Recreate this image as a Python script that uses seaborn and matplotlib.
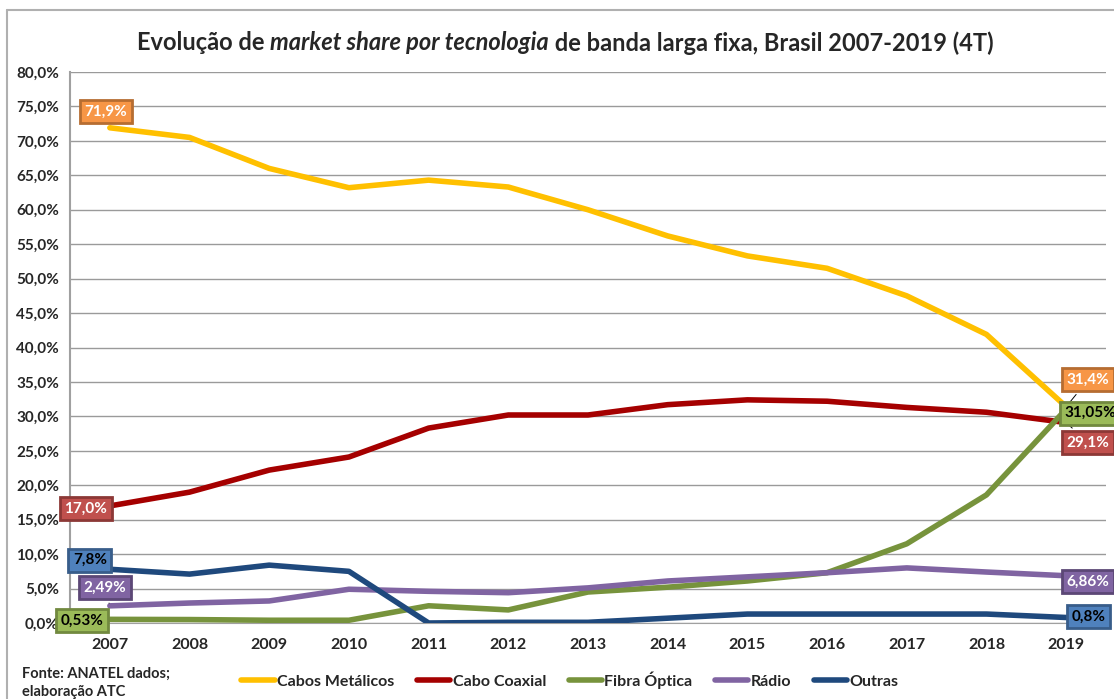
import matplotlib
matplotlib.use("Agg")
import matplotlib.pyplot as plt
import seaborn as sns
import pandas as pd
import numpy as np

# Data
years = [str(y) for y in range(2007, 2020)]
cabos_metalicos = [71.9, 70.5, 66.0, 63.2, 64.3, 63.3, 60.0, 56.2, 53.3, 51.5, 47.5, 41.9, 31.4]
cabo_coaxial = [17.0, 19.0, 22.2, 24.1, 28.3, 30.2, 30.2, 31.7, 32.4, 32.2, 31.3, 30.6, 29.1]
fibra_optica = [0.53, 0.5, 0.4, 0.4, 2.5, 1.9, 4.5, 5.2, 6.1, 7.3, 11.5, 18.6, 31.05]
radio = [2.49, 2.9, 3.2, 4.9, 4.6, 4.4, 5.1, 6.1, 6.7, 7.3, 8.0, 7.4, 6.86]
outras = [7.8, 7.1, 8.4, 7.5, 0.0, 0.1, 0.1, 0.7, 1.3, 1.3, 1.3, 1.3, 0.8]

series_names = ["Cabos Metálicos", "Cabo Coaxial", "Fibra Óptica", "Rádio", "Outras"]
series_vals = [cabos_metalicos, cabo_coaxial, fibra_optica, radio, outras]
colors = ["#FFC000", "#A50000", "#77933C", "#8064A2", "#1F497D"]

# first / last labels: (text, facecolor, edgecolor, textcolor, dx px, dy px)
first_labels = [
    ("71,9%", "#F79646", "#B66D31", "white", -4, 16),
    ("17,0%", "#C0504D", "#8C3836", "white", -24, -3),
    ("0,53%", "#9BBB59", "#71893F", "black", -28, -1),
    ("2,49%", "#8064A2", "#5C4776", "white", -5, 18),
    ("7,8%", "#4F81BD", "#385D8A", "black", -20, 9),
]
last_labels = [
    ("31,4%", "#F79646", "#B66D31", "white", 22, 27),
    ("29,1%", "#C0504D", "#8C3836", "white", 22, -20),
    ("31,05%", "#9BBB59", "#71893F", "black", 24, -4),
    ("6,86%", "#8064A2", "#5C4776", "white", 22, -6),
    ("0,8%", "#4F81BD", "#385D8A", "black", 22, 1),
]

rows = []
for name, vals in zip(series_names, series_vals):
    for i, v in enumerate(vals):
        rows.append({"pos": i, "ano": years[i], "share": v, "tecnologia": name})
df = pd.DataFrame(rows)

sns.set_style("white")
plt.rcParams["font.family"] = ["Lato", "DejaVu Sans"]

fig = plt.figure(figsize=(11.14, 6.99), dpi=100)
ax = fig.add_axes([70 / 1114, 1 - 623 / 699, 1036 / 1114, 551 / 699])

sns.lineplot(data=df, x="pos", y="share", hue="tecnologia", hue_order=series_names,
             palette=colors, linewidth=4, ax=ax, legend=False, zorder=3)

ax.set_xlim(-0.5, len(years) - 0.5)
ax.set_ylim(0, 80)
ax.set_yticks(np.arange(0, 81, 5))
ax.set_yticklabels([f"{v:.1f}%".replace(".", ",") for v in np.arange(0, 81, 5)],
                   fontsize=11, fontweight="bold")
ax.set_xticks(range(len(years)))
ax.set_xticklabels(years, fontsize=11.5, fontweight="bold")
ax.set_xticks(np.arange(-0.5, len(years), 1), minor=True)
ax.tick_params(axis="x", which="major", length=0, pad=11)
ax.tick_params(axis="x", which="minor", length=5, color="#A0A0A0", direction="out")
ax.tick_params(axis="y", length=5, color="#A0A0A0", pad=3)
ax.grid(axis="y", color="#9A9A9A", linewidth=1)
ax.set_axisbelow(True)
ax.set_xlabel("")
ax.set_ylabel("")
for side in ["top", "right"]:
    ax.spines[side].set_visible(False)
ax.spines["left"].set_color("#A0A0A0")
ax.spines["bottom"].set_color("#A0A0A0")
ax.spines["left"].set_linewidth(1.5)

# data labels
def put_label(x, y, lab, leader=False):
    text, fc, ec, tc, dx, dy = lab
    ax.annotate(text, xy=(x, y), xycoords="data", xytext=(dx, dy),
                textcoords="offset pixels", ha="center", va="center",
                fontsize=11, fontweight="bold", color=tc, zorder=5,
                bbox=dict(boxstyle="square,pad=0.3", fc=fc, ec=ec, lw=2),
                arrowprops=dict(arrowstyle="-", color="black", lw=0.7) if leader else None,
                annotation_clip=False)

last = len(years) - 1
for vals, lab in zip(series_vals, first_labels):
    put_label(0, vals[0], lab, leader=(lab[0] == "2,49%"))
for vals, lab in zip(series_vals, last_labels):
    put_label(last, vals[last], lab, leader=(lab[0] in ("31,4%", "29,1%")))

# title with italic part
fig.canvas.draw()
r = fig.canvas.get_renderer()
parts = [("Evolução de ", "normal"), ("market share por tecnologia", "italic"),
         (" de banda larga fixa, Brasil 2007-2019 (4T)", "normal")]
texts = [fig.text(0, 1 - 43 / 699, p, fontsize=17, fontweight="bold", style=s,
                  va="center", ha="left") for p, s in parts]
widths = [t.get_window_extent(r).width for t in texts]
x0 = 565 - sum(widths) / 2
for t, w in zip(texts, widths):
    t.set_x(x0 / 1114)
    x0 += w

# legend
handles = [plt.Line2D([], [], color=c, lw=4) for c in colors]
fig.legend(handles, series_names, loc="center", bbox_to_anchor=(570 / 1114, 1 - 680 / 699),
           ncol=5, frameon=False, handlelength=2.1, handletextpad=0.15, columnspacing=1.4,
           prop={"weight": "bold", "size": 11.5})

fig.text(22 / 1114, 1 - 683 / 699, "Fonte: ANATEL dados;\nelaboração ATC", fontsize=10.5,
         fontweight="bold", va="center", ha="left", linespacing=1.35)
# chart area border (left and top edges visible in the crop)
fig.add_artist(plt.Line2D([7 / 1114, 7 / 1114], [0, 1 - 10 / 699], color="#B0B0B0", lw=1.5))
fig.add_artist(plt.Line2D([7 / 1114, 1], [1 - 10 / 699, 1 - 10 / 699], color="#B0B0B0", lw=1.5))

fig.savefig("out.png", dpi=100)
